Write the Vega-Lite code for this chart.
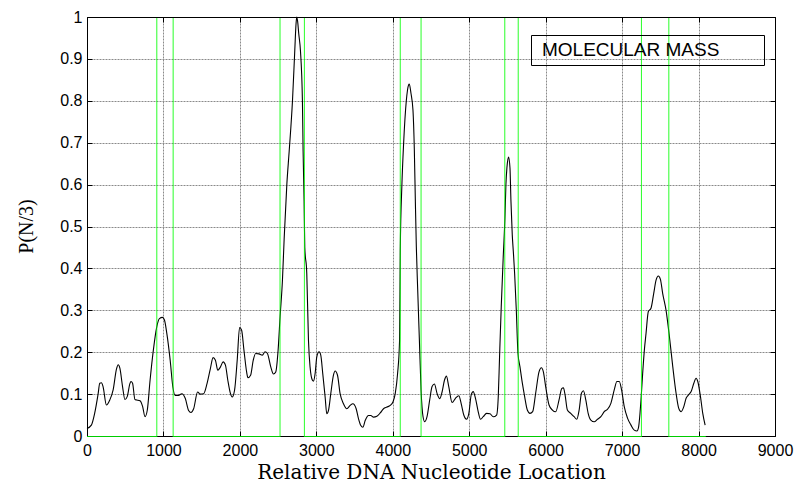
{
  "$schema": "https://vega.github.io/schema/vega-lite/v6.json",
  "width": 688,
  "height": 419,
  "autosize": {"type": "none"},
  "padding": {"left": 87, "top": 17, "right": 26, "bottom": 49},
  "background": "white",
  "config": {
    "view": {"stroke": null},
    "font": "Liberation Sans"
  },
  "datasets": {
    "exons": [
      {"pos": 0, "flag": 0}, {"pos": 913, "flag": 0}, {"pos": 913, "flag": 1}, {"pos": 1127, "flag": 1}, {"pos": 1127, "flag": 0},
      {"pos": 2525, "flag": 0}, {"pos": 2525, "flag": 1}, {"pos": 2844, "flag": 1}, {"pos": 2844, "flag": 0},
      {"pos": 4098, "flag": 0}, {"pos": 4098, "flag": 1}, {"pos": 4370, "flag": 1}, {"pos": 4370, "flag": 0},
      {"pos": 5465, "flag": 0}, {"pos": 5465, "flag": 1}, {"pos": 5641, "flag": 1}, {"pos": 5641, "flag": 0},
      {"pos": 7253, "flag": 0}, {"pos": 7253, "flag": 1}, {"pos": 7611, "flag": 1}, {"pos": 7611, "flag": 0},
      {"pos": 8095, "flag": 0}
    ],
    "curve": [
      {"pos": 0, "p": 0.018}, {"pos": 57, "p": 0.026}, {"pos": 100, "p": 0.054}, {"pos": 145, "p": 0.1}, {"pos": 167, "p": 0.126},
      {"pos": 189, "p": 0.127}, {"pos": 210, "p": 0.118}, {"pos": 254, "p": 0.074}, {"pos": 298, "p": 0.086}, {"pos": 342, "p": 0.11},
      {"pos": 386, "p": 0.16}, {"pos": 408, "p": 0.17}, {"pos": 430, "p": 0.162}, {"pos": 465, "p": 0.118}, {"pos": 496, "p": 0.087},
      {"pos": 526, "p": 0.094}, {"pos": 561, "p": 0.125}, {"pos": 575, "p": 0.13}, {"pos": 596, "p": 0.126}, {"pos": 627, "p": 0.087},
      {"pos": 649, "p": 0.086}, {"pos": 693, "p": 0.084}, {"pos": 728, "p": 0.07}, {"pos": 759, "p": 0.046}, {"pos": 789, "p": 0.062},
      {"pos": 825, "p": 0.133}, {"pos": 868, "p": 0.205}, {"pos": 912, "p": 0.26}, {"pos": 947, "p": 0.28}, {"pos": 987, "p": 0.283},
      {"pos": 1013, "p": 0.277}, {"pos": 1044, "p": 0.245}, {"pos": 1088, "p": 0.181}, {"pos": 1123, "p": 0.117}, {"pos": 1153, "p": 0.097},
      {"pos": 1197, "p": 0.097}, {"pos": 1241, "p": 0.101}, {"pos": 1285, "p": 0.09}, {"pos": 1329, "p": 0.061}, {"pos": 1360, "p": 0.056},
      {"pos": 1395, "p": 0.065}, {"pos": 1447, "p": 0.105}, {"pos": 1482, "p": 0.1}, {"pos": 1526, "p": 0.101}, {"pos": 1570, "p": 0.125},
      {"pos": 1614, "p": 0.161}, {"pos": 1649, "p": 0.187}, {"pos": 1680, "p": 0.181}, {"pos": 1711, "p": 0.157}, {"pos": 1746, "p": 0.165},
      {"pos": 1781, "p": 0.177}, {"pos": 1811, "p": 0.169}, {"pos": 1842, "p": 0.133}, {"pos": 1877, "p": 0.101}, {"pos": 1899, "p": 0.093},
      {"pos": 1930, "p": 0.109}, {"pos": 1965, "p": 0.181}, {"pos": 1996, "p": 0.259}, {"pos": 2022, "p": 0.253}, {"pos": 2053, "p": 0.205},
      {"pos": 2088, "p": 0.153}, {"pos": 2105, "p": 0.139}, {"pos": 2140, "p": 0.145}, {"pos": 2175, "p": 0.181}, {"pos": 2206, "p": 0.197},
      {"pos": 2250, "p": 0.196}, {"pos": 2294, "p": 0.193}, {"pos": 2329, "p": 0.201}, {"pos": 2360, "p": 0.197}, {"pos": 2404, "p": 0.165},
      {"pos": 2439, "p": 0.148}, {"pos": 2469, "p": 0.153}, {"pos": 2500, "p": 0.205}, {"pos": 2526, "p": 0.285}, {"pos": 2557, "p": 0.373},
      {"pos": 2579, "p": 0.47}, {"pos": 2614, "p": 0.6}, {"pos": 2645, "p": 0.68}, {"pos": 2688, "p": 0.8}, {"pos": 2718, "p": 0.92},
      {"pos": 2735, "p": 0.985}, {"pos": 2744, "p": 1.0}, {"pos": 2755, "p": 0.99}, {"pos": 2770, "p": 0.96}, {"pos": 2792, "p": 0.92},
      {"pos": 2818, "p": 0.8}, {"pos": 2827, "p": 0.68}, {"pos": 2840, "p": 0.56}, {"pos": 2849, "p": 0.45}, {"pos": 2875, "p": 0.388},
      {"pos": 2897, "p": 0.229}, {"pos": 2918, "p": 0.165}, {"pos": 2949, "p": 0.133}, {"pos": 2962, "p": 0.131}, {"pos": 2984, "p": 0.149},
      {"pos": 3006, "p": 0.189}, {"pos": 3036, "p": 0.201}, {"pos": 3058, "p": 0.193}, {"pos": 3084, "p": 0.149}, {"pos": 3115, "p": 0.093},
      {"pos": 3137, "p": 0.053}, {"pos": 3159, "p": 0.061}, {"pos": 3189, "p": 0.101}, {"pos": 3224, "p": 0.145}, {"pos": 3246, "p": 0.155},
      {"pos": 3277, "p": 0.145}, {"pos": 3311, "p": 0.101}, {"pos": 3355, "p": 0.077}, {"pos": 3399, "p": 0.065}, {"pos": 3443, "p": 0.073},
      {"pos": 3478, "p": 0.077}, {"pos": 3521, "p": 0.065}, {"pos": 3552, "p": 0.041}, {"pos": 3582, "p": 0.025}, {"pos": 3609, "p": 0.021},
      {"pos": 3639, "p": 0.037}, {"pos": 3683, "p": 0.049}, {"pos": 3713, "p": 0.049}, {"pos": 3748, "p": 0.045}, {"pos": 3792, "p": 0.047},
      {"pos": 3836, "p": 0.055}, {"pos": 3879, "p": 0.065}, {"pos": 3923, "p": 0.069}, {"pos": 3967, "p": 0.073}, {"pos": 4002, "p": 0.081},
      {"pos": 4032, "p": 0.101}, {"pos": 4063, "p": 0.149}, {"pos": 4089, "p": 0.229}, {"pos": 4098, "p": 0.444}, {"pos": 4120, "p": 0.603},
      {"pos": 4142, "p": 0.699}, {"pos": 4177, "p": 0.8}, {"pos": 4207, "p": 0.838}, {"pos": 4216, "p": 0.84}, {"pos": 4238, "p": 0.818},
      {"pos": 4264, "p": 0.778}, {"pos": 4282, "p": 0.683}, {"pos": 4295, "p": 0.563}, {"pos": 4308, "p": 0.452}, {"pos": 4326, "p": 0.349},
      {"pos": 4348, "p": 0.229}, {"pos": 4370, "p": 0.11}, {"pos": 4396, "p": 0.046}, {"pos": 4418, "p": 0.034}, {"pos": 4448, "p": 0.046},
      {"pos": 4483, "p": 0.086}, {"pos": 4514, "p": 0.118}, {"pos": 4545, "p": 0.124}, {"pos": 4580, "p": 0.101}, {"pos": 4615, "p": 0.089},
      {"pos": 4645, "p": 0.105}, {"pos": 4676, "p": 0.133}, {"pos": 4702, "p": 0.143}, {"pos": 4733, "p": 0.117}, {"pos": 4776, "p": 0.08},
      {"pos": 4820, "p": 0.09}, {"pos": 4864, "p": 0.096}, {"pos": 4894, "p": 0.078}, {"pos": 4929, "p": 0.05}, {"pos": 4964, "p": 0.04},
      {"pos": 4995, "p": 0.054}, {"pos": 5026, "p": 0.098}, {"pos": 5052, "p": 0.106}, {"pos": 5082, "p": 0.09}, {"pos": 5113, "p": 0.062},
      {"pos": 5148, "p": 0.04}, {"pos": 5183, "p": 0.046}, {"pos": 5227, "p": 0.054}, {"pos": 5271, "p": 0.053}, {"pos": 5315, "p": 0.046},
      {"pos": 5358, "p": 0.05}, {"pos": 5380, "p": 0.094}, {"pos": 5397, "p": 0.19}, {"pos": 5419, "p": 0.309}, {"pos": 5445, "p": 0.428},
      {"pos": 5467, "p": 0.52}, {"pos": 5480, "p": 0.6}, {"pos": 5493, "p": 0.64}, {"pos": 5506, "p": 0.66}, {"pos": 5515, "p": 0.666},
      {"pos": 5533, "p": 0.64}, {"pos": 5546, "p": 0.56}, {"pos": 5563, "p": 0.48}, {"pos": 5577, "p": 0.44}, {"pos": 5594, "p": 0.388},
      {"pos": 5616, "p": 0.3}, {"pos": 5638, "p": 0.197}, {"pos": 5664, "p": 0.165}, {"pos": 5695, "p": 0.126}, {"pos": 5725, "p": 0.094},
      {"pos": 5760, "p": 0.062}, {"pos": 5795, "p": 0.054}, {"pos": 5830, "p": 0.058}, {"pos": 5869, "p": 0.102}, {"pos": 5913, "p": 0.153},
      {"pos": 5944, "p": 0.163}, {"pos": 5970, "p": 0.153}, {"pos": 6000, "p": 0.118}, {"pos": 6044, "p": 0.074}, {"pos": 6088, "p": 0.062},
      {"pos": 6131, "p": 0.058}, {"pos": 6175, "p": 0.086}, {"pos": 6210, "p": 0.113}, {"pos": 6232, "p": 0.115}, {"pos": 6254, "p": 0.098},
      {"pos": 6284, "p": 0.062}, {"pos": 6328, "p": 0.054}, {"pos": 6372, "p": 0.046}, {"pos": 6407, "p": 0.04}, {"pos": 6438, "p": 0.062},
      {"pos": 6468, "p": 0.102}, {"pos": 6494, "p": 0.108}, {"pos": 6525, "p": 0.086}, {"pos": 6556, "p": 0.054}, {"pos": 6591, "p": 0.038},
      {"pos": 6635, "p": 0.034}, {"pos": 6678, "p": 0.04}, {"pos": 6722, "p": 0.046}, {"pos": 6766, "p": 0.058}, {"pos": 6810, "p": 0.064},
      {"pos": 6853, "p": 0.078}, {"pos": 6897, "p": 0.11}, {"pos": 6932, "p": 0.13}, {"pos": 6963, "p": 0.13}, {"pos": 6993, "p": 0.11},
      {"pos": 7028, "p": 0.07}, {"pos": 7072, "p": 0.042}, {"pos": 7116, "p": 0.026}, {"pos": 7159, "p": 0.014}, {"pos": 7194, "p": 0.012},
      {"pos": 7216, "p": 0.022}, {"pos": 7234, "p": 0.054}, {"pos": 7247, "p": 0.086}, {"pos": 7269, "p": 0.15}, {"pos": 7291, "p": 0.205},
      {"pos": 7313, "p": 0.245}, {"pos": 7343, "p": 0.297}, {"pos": 7378, "p": 0.305}, {"pos": 7413, "p": 0.34}, {"pos": 7444, "p": 0.372},
      {"pos": 7474, "p": 0.382}, {"pos": 7501, "p": 0.374}, {"pos": 7531, "p": 0.34}, {"pos": 7575, "p": 0.3}, {"pos": 7619, "p": 0.237},
      {"pos": 7663, "p": 0.165}, {"pos": 7706, "p": 0.102}, {"pos": 7741, "p": 0.066}, {"pos": 7772, "p": 0.058}, {"pos": 7807, "p": 0.07},
      {"pos": 7837, "p": 0.09}, {"pos": 7868, "p": 0.098}, {"pos": 7903, "p": 0.106}, {"pos": 7938, "p": 0.126}, {"pos": 7968, "p": 0.138},
      {"pos": 7990, "p": 0.13}, {"pos": 8025, "p": 0.094}, {"pos": 8055, "p": 0.054}, {"pos": 8086, "p": 0.026}
    ]
  },
  "layer": [
    {
      "data": {"name": "curve"},
      "mark": {"type": "line", "strokeWidth": 1.1, "interpolate": "monotone"},
      "encoding": {
        "x": {
          "field": "pos", "type": "quantitative",
          "scale": {"domain": [0, 9000], "nice": false, "zero": false},
          "axis": {
            "orient": "bottom",
            "values": [0, 1000, 2000, 3000, 4000, 5000, 6000, 7000, 8000, 9000],
            "format": "d",
            "labelFont": "Liberation Sans", "labelFontSize": 16, "labelColor": "black",
            "labelPadding": 11, "labelFlush": false, "labelOverlap": false,
            "ticks": true, "tickSize": -5, "tickColor": "black",
            "domainColor": "black",
            "grid": true, "gridColor": "#8a8a8a", "gridDash": [2, 1],
            "title": "Relative DNA Nucleotide Location",
            "titleFont": "DejaVu Serif", "titleFontSize": 20, "titleFontWeight": "normal",
            "titleColor": "black", "titleBaseline": "alphabetic", "titleY": 42
          }
        },
        "y": {
          "field": "p", "type": "quantitative",
          "scale": {"domain": [0, 1], "nice": false},
          "axis": {
            "orient": "left",
            "values": [0, 0.1, 0.2, 0.3, 0.4, 0.5, 0.6, 0.7, 0.8, 0.9, 1],
            "format": "~g",
            "labelFont": "Liberation Sans", "labelFontSize": 16, "labelColor": "black",
            "labelPadding": 10, "labelFlush": false, "labelOverlap": false,
            "ticks": true, "tickSize": -5, "tickColor": "black",
            "domainColor": "black",
            "grid": true, "gridColor": "#8a8a8a", "gridDash": [2, 1],
            "title": "P(N/3)",
            "titleFont": "Liberation Serif", "titleFontSize": 20, "titleFontWeight": "normal",
            "titleColor": "black", "titleAngle": -90, "titleAlign": "center",
            "titleBaseline": "alphabetic", "titleX": -55, "titleY": 209
          }
        },
        "color": {
          "datum": "MOLECULAR MASS",
          "scale": {"range": ["black"]},
          "legend": {
            "orient": "none", "legendX": 444, "legendY": 18,
            "title": null,
            "strokeColor": "black", "padding": 5, "cornerRadius": 0,
            "labelFont": "Liberation Sans", "labelFontSize": 19, "labelColor": "black",
            "labelLimit": 0, "labelOffset": -221,
            "symbolType": "square", "symbolSize": 100, "symbolOffset": 208,
            "symbolStrokeWidth": 0, "symbolOpacity": 0
          }
        }
      }
    },
    {
      "data": {"name": "exons"},
      "mark": {"type": "line", "color": "#00ff00", "opacity": 0.8, "strokeWidth": 1.05},
      "encoding": {
        "x": {
          "field": "pos", "type": "quantitative",
          "scale": {"domain": [0, 9000], "nice": false, "zero": false},
          "axis": {
            "orient": "top", "labels": false, "title": null, "grid": false,
            "values": [0, 1000, 2000, 3000, 4000, 5000, 6000, 7000, 8000, 9000],
            "ticks": true, "tickSize": -5, "tickColor": "black",
            "domainColor": "black", "zindex": 1
          }
        },
        "y": {
          "field": "flag", "type": "quantitative",
          "scale": {"domain": [0.0012, 1.0012], "nice": false, "zero": false},
          "axis": {
            "orient": "right", "labels": false, "title": null, "grid": false,
            "values": [0.0012, 0.1012, 0.2012, 0.3012, 0.4012, 0.5012, 0.6012, 0.7012, 0.8012, 0.9012, 1.0012],
            "ticks": true, "tickSize": -5, "tickColor": "black",
            "domainColor": "black", "zindex": 1
          }
        },
        "order": {"value": null}
      }
    }
  ],
  "resolve": {
    "scale": {"x": "independent", "y": "independent"},
    "axis": {"x": "independent", "y": "independent"}
  }
}
